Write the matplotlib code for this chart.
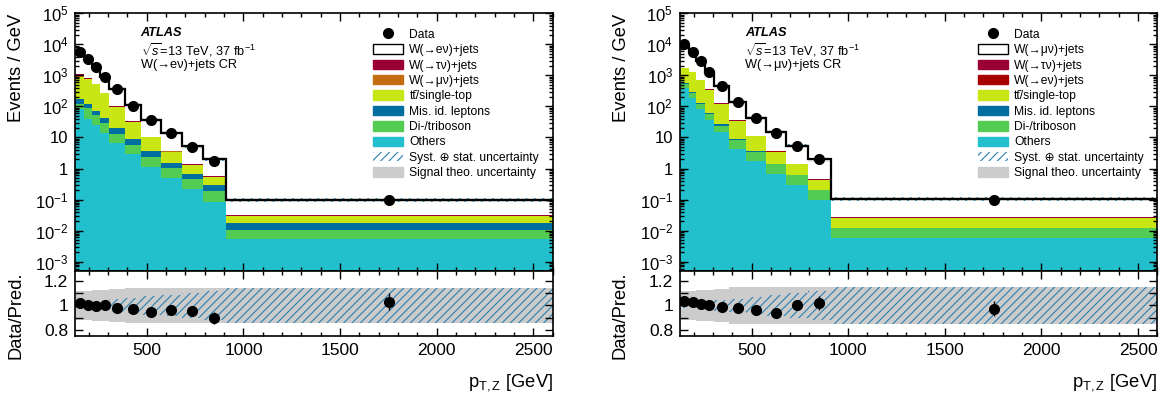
"""
ATLAS-style W+jets control-region plots: stacked pT,Z spectra with data/prediction ratio
"""

import numpy as np
import matplotlib
matplotlib.use("Agg")
import matplotlib.pyplot as plt
from matplotlib.patches import Patch
from matplotlib.lines import Line2D
from matplotlib.ticker import LogLocator, MultipleLocator, FuncFormatter, NullFormatter, FixedLocator

plt.rcParams['font.family'] = ['Liberation Sans', 'DejaVu Sans']
plt.rcParams['mathtext.fontset'] = 'custom'
plt.rcParams['mathtext.rm'] = 'Liberation Sans'
plt.rcParams['mathtext.it'] = 'Liberation Sans:italic'
plt.rcParams['mathtext.bf'] = 'Liberation Sans:bold'
plt.rcParams['hatch.linewidth'] = 0.8

# --- binning (GeV) ---
bin_edges = [130, 175, 215, 260, 305, 385, 470, 575, 680, 790, 910, 2600]

# --- W(->e nu)+jets CR (left) : events / GeV ---
data_e = [5500, 3400, 1900, 900, 355, 107, 36, 13.5, 4.9, 1.8, 0.10]
data_err_e = [0.004, 0.005, 0.006, 0.008, 0.012, 0.018, 0.025, 0.03, 0.035, 0.058, 0.07]
wenu_e = [4270, 2580, 1380, 625, 261, 77, 27.4, 10.3, 3.75, 1.44, 0.066]
wtaunu_e = [120, 25, 9, 8, 3, 1.2, 0.3, 0.15, 0.04, 0.02, 0.0006]
wmunu_e = [80, 15, 5, 5, 2, 0.8, 0.2, 0.1, 0.03, 0.01, 0.0004]
top_e = [732, 641, 438, 221, 77.5, 22.2, 6.3, 1.93, 0.62, 0.25, 0.0124]
misid_e = [50, 33, 19, 11, 6.1, 2.9, 1.32, 0.47, 0.24, 0.104, 0.0074]
dibos_e = [38, 48, 28, 16, 7.0, 3.07, 1.25, 0.54, 0.234, 0.102, 0.0047]
others_e = [80, 38, 25, 14, 6.4, 2.83, 1.13, 0.51, 0.216, 0.084, 0.0055]
syst_e = [0.02, 0.02, 0.025, 0.03, 0.05, 0.06, 0.08, 0.09, 0.10, 0.12, 0.145]
theo_e = [0.12, 0.122, 0.125, 0.13, 0.137, 0.143, 0.146, 0.148, 0.148, 0.148, 0.148]

# --- W(->mu nu)+jets CR (right) ---
data_m = [10200, 5770, 2900, 1290, 460, 138, 42, 14.1, 5.5, 2.0, 0.10]
data_err_m = [0.003, 0.004, 0.005, 0.007, 0.01, 0.015, 0.022, 0.03, 0.035, 0.055, 0.065]
wmunu_m = [8110, 4300, 2155, 930, 340, 106, 32.5, 11.5, 4.1, 1.51, 0.076]
wtaunu_m = [40, 25, 10, 4.5, 2, 0.6, 0.2, 0.06, 0.025, 0.007, 0.0005]
wenu_m = [20, 15, 5, 2.5, 1, 0.4, 0.1, 0.04, 0.015, 0.003, 0.0003]
top_m = [1150, 973, 559, 283, 95, 25.5, 7.4, 2.05, 0.73, 0.23, 0.0139]
misid_m = [40, 34, 11, 6, 3.1, 0.8, 0.3, 0.05, 0.02, 0.005, 0.0002]
dibos_m = [120, 82, 38, 20, 9.2, 3.6, 1.58, 0.71, 0.31, 0.105, 0.006]
others_m = [390, 181, 82, 36, 14.5, 4.4, 1.72, 0.69, 0.29, 0.10, 0.0059]
syst_m = [0.02, 0.02, 0.025, 0.03, 0.045, 0.055, 0.07, 0.085, 0.10, 0.12, 0.155]
theo_m = [0.117, 0.12, 0.125, 0.13, 0.14, 0.15, 0.155, 0.155, 0.155, 0.155, 0.155]

COL = {
    'tau': '#9b0034', 'mu': '#c46e14', 'e': '#a80000', 'top': '#c8e614',
    'misid': '#006e9f', 'dibos': '#52cc52', 'others': '#22bfcc',
    'hatch': '#2a7fb0', 'theo': '#cccccc',
}

W_MAIN = 477.4 / 1165
Y_MAIN, H_MAIN = 0.3242, 0.6426
Y_RAT, H_RAT = 0.1613, 0.1629


def log_label(v, pos):
    if v <= 0:
        return ''
    e = int(round(np.log10(v)))
    if e == 0:
        return '1'
    if e == 1:
        return '10'
    return r'$10^{%d}$' % e


def step_band(ax, edges, lo, hi, **kw):
    lo = np.append(lo, lo[-1])
    hi = np.append(hi, hi[-1])
    ax.fill_between(edges, lo, hi, step='post', **kw)


def style_axes(ax):
    ax.tick_params(which='both', direction='in', top=True, right=True, width=1)
    ax.tick_params(which='major', length=6, labelsize=12.5, pad=5)
    ax.tick_params(which='minor', length=3)
    for s in ax.spines.values():
        s.set_linewidth(1.2)


def draw_panel(fig, x0, signal_label, w2_label, w3_label, w3_color, cr_text,
               data, data_err, signal, wtau, w3, top, misid, dibos, others, syst, theo):
    edges = np.array(bin_edges, dtype=float)
    centers = 0.5 * (edges[:-1] + edges[1:])
    n = len(centers)

    ax = fig.add_axes([x0, Y_MAIN, W_MAIN, H_MAIN])
    axr = fig.add_axes([x0, Y_RAT, W_MAIN, H_RAT], sharex=ax)

    # stacked backgrounds, bottom to top
    comps = [
        (others, COL['others']), (dibos, COL['dibos']), (misid, COL['misid']),
        (top, COL['top']), (w3, w3_color), (wtau, COL['tau']), (signal, 'white'),
    ]
    bottom = np.full(n, 1e-7)
    for vals, color in comps:
        t = bottom + np.array(vals)
        ax.stairs(t, edges, baseline=bottom, fill=True, color=color, lw=0)
        bottom = t
    total = bottom

    step_band(ax, edges, total * (1 - np.array(theo)), total * (1 + np.array(theo)),
              color=COL['theo'], alpha=0.5, lw=0)
    step_band(ax, edges, total * (1 - np.array(syst)), total * (1 + np.array(syst)),
              facecolor='none', edgecolor=COL['hatch'], hatch='////', lw=0)
    ax.stairs(total, edges, color='black', lw=1.6, baseline=None)

    data = np.array(data)
    derr = np.array(data_err)
    ax.errorbar(centers, data, yerr=data * derr, fmt='o', color='black', ms=7,
                elinewidth=1, capsize=0, zorder=5)

    ax.set_yscale('log')
    ax.set_ylim(5e-4, 1e5)
    ax.set_xlim(edges[0], edges[-1])
    ax.yaxis.set_major_locator(LogLocator(base=10, numticks=20))
    ax.yaxis.set_minor_locator(LogLocator(base=10, subs=np.arange(2, 10), numticks=200))
    ax.yaxis.set_major_formatter(FuncFormatter(log_label))
    ax.yaxis.set_minor_formatter(NullFormatter())
    style_axes(ax)
    ax.tick_params(axis='x', labelbottom=False)
    ax.tick_params(axis='y', labelsize=12)
    ax.set_ylabel('Events / GeV', fontsize=13.2, loc='top')
    ax.yaxis.set_label_coords(-0.105, 1.0)

    ax.text(0.137, 0.922, 'ATLAS', transform=ax.transAxes, fontsize=9.2,
            fontweight='bold', fontstyle='italic', va='center')
    ax.text(0.137, 0.857, r'$\sqrt{s}$=13 TeV, 37 fb$^{-1}$', transform=ax.transAxes,
            fontsize=9.2, va='center')
    ax.text(0.137, 0.800, cr_text, transform=ax.transAxes, fontsize=9.2, va='center')

    handles = [
        Line2D([], [], marker='o', color='black', ls='none', ms=7),
        Patch(facecolor='white', edgecolor='black', lw=1),
        Patch(facecolor=COL['tau'], edgecolor=COL['tau']),
        Patch(facecolor=w3_color, edgecolor=w3_color),
        Patch(facecolor=COL['top'], edgecolor=COL['top']),
        Patch(facecolor=COL['misid'], edgecolor=COL['misid']),
        Patch(facecolor=COL['dibos'], edgecolor=COL['dibos']),
        Patch(facecolor=COL['others'], edgecolor=COL['others']),
        Patch(facecolor='white', edgecolor=COL['hatch'], hatch='////', lw=0),
        Patch(facecolor=COL['theo'], edgecolor=COL['theo']),
    ]
    labels = ['Data', signal_label, w2_label, w3_label, 'tt\u0304/single-top',
              'Mis. id. leptons', 'Di-/triboson', 'Others',
              'Syst. \u2295 stat. uncertainty', 'Signal theo. uncertainty']
    ax.legend(handles, labels, loc='upper left', bbox_to_anchor=(0.624, 0.94),
              frameon=False, fontsize=8.7, borderpad=0, borderaxespad=0,
              handlelength=2.5, handleheight=0.83, handletextpad=0.5, labelspacing=0.28)

    # ratio panel
    step_band(axr, edges, 1 - np.array(theo), 1 + np.array(theo), color=COL['theo'], lw=0)
    step_band(axr, edges, 1 - np.array(syst), 1 + np.array(syst),
              facecolor='none', edgecolor=COL['hatch'], hatch='////', lw=0)
    ratio = data / total
    axr.errorbar(centers, ratio, yerr=ratio * derr, fmt='o', color='black', ms=7,
                 elinewidth=1, capsize=0, zorder=5)
    axr.set_ylim(0.745, 1.285)
    axr.yaxis.set_major_locator(FixedLocator([0.8, 1.0, 1.2]))
    axr.yaxis.set_minor_locator(FixedLocator([0.9, 1.1]))
    axr.yaxis.set_major_formatter(FuncFormatter(lambda v, p: '%g' % v))
    axr.xaxis.set_major_locator(MultipleLocator(500))
    axr.xaxis.set_minor_locator(MultipleLocator(100))
    style_axes(axr)
    axr.tick_params(axis='y', which='minor', length=6)
    axr.set_ylabel('Data/Pred.', fontsize=13.2)
    axr.yaxis.set_label_coords(-0.107, 0.33)
    axr.set_xlabel(r'$\mathrm{p_{T,Z}}$ [GeV]', fontsize=13.2, loc='right')
    axr.xaxis.set_label_coords(1.0, -0.55)


fig = plt.figure(figsize=(11.65, 4.01), dpi=100)

draw_panel(fig, 75.3 / 1165, 'W(\u2192e\u03bd)+jets', 'W(\u2192\u03c4\u03bd)+jets',
           'W(\u2192\u03bc\u03bd)+jets', COL['mu'], 'W(\u2192e\u03bd)+jets CR',
           data_e, data_err_e, wenu_e, wtaunu_e, wmunu_e, top_e, misid_e, dibos_e,
           others_e, syst_e, theo_e)

draw_panel(fig, 680.0 / 1165, 'W(\u2192\u03bc\u03bd)+jets', 'W(\u2192\u03c4\u03bd)+jets',
           'W(\u2192e\u03bd)+jets', COL['e'], 'W(\u2192\u03bc\u03bd)+jets CR',
           data_m, data_err_m, wmunu_m, wtaunu_m, wenu_m, top_m, misid_m, dibos_m,
           others_m, syst_m, theo_m)

fig.savefig('out.png', dpi=100)
